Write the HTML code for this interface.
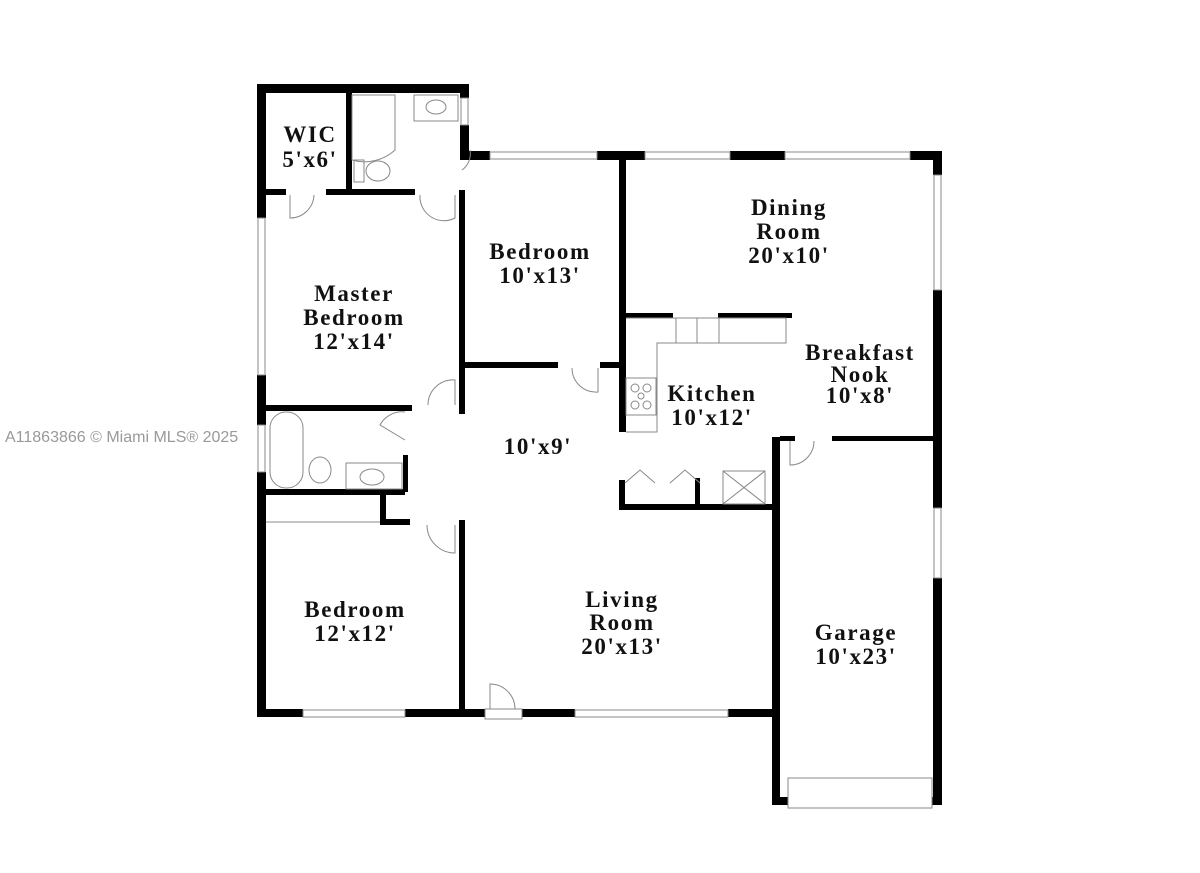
<!DOCTYPE html>
<html><head><meta charset="utf-8"><style>
html,body{margin:0;padding:0;background:#fff;}
svg{display:block}
text{font-family:"Liberation Serif",serif;font-weight:bold;font-size:23px;letter-spacing:1.6px;fill:#111;text-anchor:middle}
.wm{font-family:"Liberation Sans",sans-serif;font-weight:normal;font-size:16px;letter-spacing:0;fill:#999;text-anchor:start}
.t{fill:none;stroke:#888;stroke-width:1}
</style></head><body>
<svg width="1200" height="873" viewBox="0 0 1200 873" xmlns="http://www.w3.org/2000/svg">
<rect width="1200" height="873" fill="#fff"/>
<text class="wm" x="5" y="442">A11863866 © Miami MLS® 2025</text>
<g fill="#000">
<rect x="257" y="84" width="9" height="134"/>
<rect x="257" y="375" width="9" height="50"/>
<rect x="257" y="472" width="9" height="245"/>
<rect x="257" y="84" width="212" height="9"/>
<rect x="460" y="84" width="9" height="14"/>
<rect x="460" y="125" width="9" height="35"/>
<rect x="460" y="151" width="30" height="9"/>
<rect x="597" y="151" width="48" height="9"/>
<rect x="730" y="151" width="55" height="9"/>
<rect x="910" y="151" width="32" height="9"/>
<rect x="933" y="151" width="9" height="24"/>
<rect x="933" y="290" width="9" height="218"/>
<rect x="933" y="578" width="9" height="227"/>
<rect x="257" y="709" width="46" height="8"/>
<rect x="405" y="709" width="80" height="8"/>
<rect x="522" y="709" width="53" height="8"/>
<rect x="728" y="709" width="52" height="8"/>
<rect x="772" y="437" width="8" height="368"/>
<rect x="772" y="797" width="16" height="8"/>
<rect x="932" y="797" width="10" height="8"/>
<rect x="346" y="93" width="6" height="99"/>
<rect x="266" y="189" width="20" height="6"/>
<rect x="326" y="189" width="89" height="6"/>
<rect x="459" y="190" width="6" height="224"/>
<rect x="266" y="405" width="146" height="6"/>
<rect x="465" y="362" width="93" height="6"/>
<rect x="600" y="362" width="20" height="6"/>
<rect x="619" y="160" width="7" height="272"/>
<rect x="626" y="313" width="47" height="5"/>
<rect x="718" y="313" width="74" height="5"/>
<rect x="266" y="489" width="139" height="6"/>
<rect x="403" y="455" width="5" height="37"/>
<rect x="380" y="489" width="6" height="36"/>
<rect x="380" y="519" width="30" height="6"/>
<rect x="459" y="520" width="6" height="190"/>
<rect x="619" y="480" width="6" height="30"/>
<rect x="619" y="504" width="160" height="6"/>
<rect x="695" y="478" width="5" height="30"/>
<rect x="780" y="436" width="15" height="5"/>
<rect x="832" y="436" width="103" height="5"/>
</g>
<g class="t">
<rect x="258" y="218" width="7" height="157"/>
<rect x="258" y="425" width="7" height="47"/>
<rect x="461" y="98" width="7" height="27"/>
<rect x="490" y="152" width="107" height="7"/>
<rect x="645" y="152" width="85" height="7"/>
<rect x="785" y="152" width="125" height="7"/>
<rect x="934" y="175" width="7" height="115"/>
<rect x="934" y="508" width="7" height="70"/>
<rect x="303" y="710" width="102" height="7"/>
<rect x="575" y="710" width="153" height="7"/>
<rect x="788" y="778" width="144" height="30"/>
<rect x="485" y="709" width="37" height="10"/>
<line x1="266" y1="522" x2="380" y2="522"/>
<path d="M290 195 V218 A24 24 0 0 0 314 195"/>
<path d="M455 195 V218 A24 24 0 0 1 420 195"/>
<path d="M455 405 V380 A25 25 0 0 0 428 405"/>
<path d="M405 412 A25 25 0 0 0 380 425 L405 440"/>
<path d="M598 368 V392 A24 24 0 0 1 572 368"/>
<path d="M790 441 V465 A24 24 0 0 0 814 441"/>
<path d="M455 525 V553 A28 28 0 0 1 427 525"/>
<path d="M490 709 V684 A25 25 0 0 1 515 709"/>
<path d="M462 170 A20 20 0 0 0 470 150"/>
<path d="M352 95 H395 V150 A45 45 0 0 1 352 160 Z"/>
<rect x="414" y="95" width="44" height="26"/>
<ellipse cx="436" cy="107" rx="10" ry="7"/>
<rect x="354" y="160" width="10" height="22"/>
<ellipse cx="378" cy="171" rx="12" ry="10"/>
<rect x="270" y="412" width="33" height="76" rx="16"/>
<ellipse cx="320" cy="470" rx="11" ry="13"/>
<rect x="346" y="463" width="56" height="26"/>
<ellipse cx="372" cy="477" rx="12" ry="8"/>
<path d="M626 318 H786 V343 H657 V432 H626"/>
<rect x="676" y="318" width="43" height="25"/>
<line x1="697" y1="318" x2="697" y2="343"/>
<rect x="626" y="378" width="30" height="37"/>
<circle cx="635" cy="388" r="4"/><circle cx="647" cy="388" r="4"/><circle cx="635" cy="405" r="4"/><circle cx="647" cy="405" r="4"/><circle cx="641" cy="396" r="3"/>
<rect x="723" y="471" width="42" height="33"/>
<path d="M723 471 L765 504 M765 471 L723 504"/>
<path d="M625 483 L640 470 L655 483 M670 483 L685 470 L700 483"/>
</g>
<text x="310" y="142">WIC</text>
<text x="310" y="167">5'x6'</text>
<text x="354" y="301">Master</text>
<text x="354" y="325">Bedroom</text>
<text x="354" y="349">12'x14'</text>
<text x="540" y="259">Bedroom</text>
<text x="540" y="283">10'x13'</text>
<text x="789" y="215">Dining</text>
<text x="789" y="239">Room</text>
<text x="789" y="263">20'x10'</text>
<text x="860" y="360">Breakfast</text>
<text x="860" y="382">Nook</text>
<text x="860" y="403">10'x8'</text>
<text x="712" y="401">Kitchen</text>
<text x="712" y="425">10'x12'</text>
<text x="538" y="454">10'x9'</text>
<text x="355" y="617">Bedroom</text>
<text x="355" y="641">12'x12'</text>
<text x="622" y="607">Living</text>
<text x="622" y="630">Room</text>
<text x="622" y="654">20'x13'</text>
<text x="856" y="640">Garage</text>
<text x="856" y="664">10'x23'</text>
</svg>
</body></html>
